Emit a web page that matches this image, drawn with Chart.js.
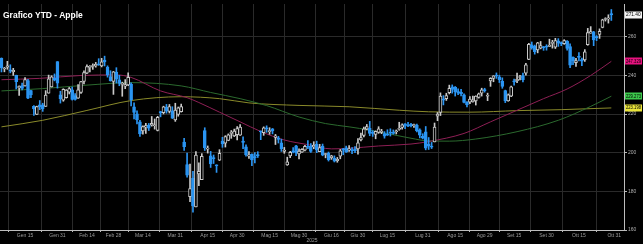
<!DOCTYPE html>
<html>
<head>
<meta charset="utf-8">
<title>Grafico YTD - Apple</title>
<script src="https://cdn.jsdelivr.net/npm/chart.js@4/dist/chart.umd.min.js"></script>
<style>
	html, body { margin:0; padding:0; background:#000; }
	#wrap { position:relative; width:643px; height:244px; }
	#title { position:absolute; left:3px; top:10px; font:bold 8.5px "Liberation Sans", Arial, sans-serif; color:#fff; }
</style>
</head>
<body>
<div id="wrap">
	<canvas id="apple-ytd" width="643" height="244"></canvas>
	<div id="title">Grafico YTD - Apple</div>
</div>
<script>
// trading-day index of each x label (0 = 2 Jan 2025)
var tickIdx = [8, 19, 29, 38, 48, 59, 70, 80, 91, 101, 112, 121, 131, 143, 154, 164, 174, 185, 196, 208];
var tickLabels = ['Gen 15','Gen 31','Feb 14','Feb 28','Mar 14','Mar 31','Apr 15','Apr 30','Mag 15','Mag 30','Giu 16','Giu 30','Lug 15','Lug 31','Ago 15','Ago 29','Set 15','Set 30','Ott 15','Ott 31'];
var yTicks = [160, 180, 200, 220, 240, 260];

// daily OHLC, 2 Jan - 30 Oct 2025
var opens = [
	248.93,243.36,244.31,242.98,241.92,240.01,233.53,234.75,234.64,237.35,232.12,224.00,219.79,224.74,224.78,224.02,230.85,234.12,238.67,247.19,
	229.99,227.25,228.53,231.29,232.60,229.57,228.20,231.20,236.91,241.25,244.15,244.66,244.94,245.95,244.93,248.00,244.33,239.41,236.95,
	241.79,237.71,235.42,234.44,235.11,235.54,223.81,220.14,215.95,211.25,213.31,214.16,214.22,213.99,211.56,221.00,220.77,223.51,221.39,221.67,217.01,
	219.81,221.32,205.54,193.89,177.20,186.70,171.95,189.07,186.10,211.44,201.86,198.36,197.20,193.27,196.12,206.00,204.89,206.37,210.00,208.69,209.30,
	209.08,206.09,203.10,198.21,199.17,197.72,199.00,210.97,210.43,212.43,210.95,212.36,207.91,207.67,205.17,200.71,193.67,198.30,200.59,203.58,199.37,
	200.28,201.35,202.91,203.50,203.00,204.39,200.60,203.50,199.08,199.73,197.30,197.20,195.94,198.24,201.63,202.59,201.45,201.43,201.89,202.01,
	206.67,208.91,212.15,212.68,210.10,209.53,210.51,210.57,209.93,209.22,210.30,210.57,210.87,212.10,213.14,215.00,213.90,214.70,214.03,214.18,211.90,208.49,
	210.87,204.51,203.40,205.63,218.88,220.83,227.92,228.01,231.07,234.06,234.00,231.70,231.28,229.98,226.27,226.17,226.48,226.87,228.61,230.82,232.51,
	229.25,237.21,238.45,240.00,239.30,237.00,232.19,226.88,229.22,237.00,237.18,238.97,239.97,241.23,248.30,255.88,255.22,253.21,254.10,254.56,254.86,
	255.04,256.58,254.67,257.99,256.81,256.52,257.81,254.94,249.38,246.60,249.49,248.25,248.02,255.89,261.88,262.65,259.94,261.19,264.88,268.99,269.28,271.99
];
var highs = [
	249.10,244.18,247.33,245.55,243.71,240.16,234.67,236.12,238.96,238.01,232.29,224.42,224.12,227.03,225.63,232.15,240.19,239.86,240.79,247.19,
	231.83,233.13,232.67,233.80,234.00,230.59,235.23,236.96,242.34,245.55,245.18,246.01,246.78,248.69,248.86,250.00,244.98,242.46,242.09,
	244.03,240.07,236.55,237.86,241.37,236.16,225.84,221.75,216.84,213.95,215.22,215.15,218.76,217.49,218.84,221.48,224.10,225.02,224.99,223.81,225.62,
	223.68,225.19,207.49,199.88,194.15,190.34,200.61,194.78,199.54,212.94,203.51,200.70,198.83,193.80,201.59,208.00,208.83,209.75,211.50,212.24,213.58,
	214.56,208.29,204.10,200.65,199.44,200.05,200.54,211.27,213.40,213.94,212.96,212.57,209.48,208.47,207.04,202.75,197.70,200.74,202.73,203.81,201.96,
	202.13,203.77,206.24,204.75,205.70,206.00,204.35,204.50,199.68,200.37,198.69,198.39,197.57,201.70,202.30,203.44,203.67,202.64,203.22,207.39,
	210.19,213.34,214.65,216.23,211.43,211.33,213.48,212.13,210.91,211.89,212.40,211.80,211.79,215.78,214.95,215.15,215.69,215.24,214.85,214.81,212.39,209.84,
	213.58,207.88,205.34,215.38,220.85,231.00,229.56,230.80,235.00,235.12,234.28,233.12,232.87,230.47,226.52,229.09,229.30,229.49,230.90,233.41,233.38,
	230.85,238.85,239.90,241.32,240.15,238.78,232.42,230.45,234.51,238.19,241.22,240.10,241.20,246.30,256.64,257.34,255.74,257.17,257.60,255.00,255.92,
	258.79,258.18,259.24,259.07,257.40,258.52,258.00,256.38,249.69,248.85,251.82,249.04,253.38,264.38,265.29,262.85,260.62,264.13,269.12,269.89,271.41,274.14
];
var lows = [
	241.82,241.89,243.20,241.35,240.05,233.00,229.72,232.47,234.43,228.03,228.48,219.38,219.79,222.30,221.41,223.98,230.81,234.01,237.21,233.44,
	225.70,226.65,228.27,230.43,227.26,227.20,228.13,230.68,235.57,240.99,241.84,243.16,244.29,245.22,244.42,244.91,239.13,237.06,230.20,
	236.11,234.68,229.23,233.16,234.76,224.22,217.45,214.91,208.42,209.58,209.97,211.49,213.75,212.22,211.28,218.58,220.08,220.47,220.56,217.68,216.23,
	218.90,221.02,201.25,187.34,174.62,169.21,171.89,183.00,186.06,201.16,199.80,192.37,194.42,189.81,195.97,202.80,202.94,206.20,207.46,208.37,206.67,
	208.90,202.16,198.21,197.02,193.25,194.68,197.54,206.75,209.00,210.58,209.54,209.77,204.26,205.03,200.71,199.70,193.46,197.43,199.90,198.51,196.78,
	200.12,200.96,202.10,200.15,202.05,200.02,200.57,198.41,197.36,195.70,196.56,195.21,195.07,196.86,198.96,200.20,200.62,199.46,200.00,199.26,
	206.14,208.14,211.81,208.80,208.45,207.22,210.03,209.86,207.54,208.92,208.64,209.59,209.70,211.63,212.23,212.41,213.53,213.40,213.06,210.82,207.72,207.16,
	201.50,201.68,202.16,205.59,216.58,219.25,224.76,227.07,230.43,230.85,229.34,230.11,229.35,225.77,223.78,225.41,226.23,224.69,228.26,229.34,231.37,
	226.97,234.36,236.74,238.49,236.34,233.36,225.95,226.65,229.02,235.03,236.32,237.73,236.65,240.21,248.12,253.58,251.04,251.71,253.78,253.01,253.11,
	254.93,254.15,253.95,255.05,255.43,256.11,253.14,244.00,245.56,244.70,247.47,245.13,247.27,255.63,261.83,255.43,258.01,259.18,264.65,268.15,267.11,268.48
];
var closes = [
	243.85,243.36,245.00,242.21,242.70,236.85,234.40,233.28,237.87,228.26,229.98,222.64,223.83,223.66,222.78,229.86,238.26,239.36,237.59,236.00,
	228.01,232.80,232.47,233.22,227.63,227.65,232.62,236.87,241.53,244.60,244.47,244.87,245.83,245.55,247.10,247.04,240.36,237.30,241.84,
	238.03,235.93,235.74,235.33,239.07,227.48,220.84,216.98,209.68,213.49,214.00,212.69,215.24,214.10,218.27,220.73,223.75,221.53,223.85,217.90,222.13,
	223.19,223.89,203.19,188.38,181.46,172.42,198.85,190.42,198.15,202.52,202.14,194.27,196.98,193.16,199.74,204.60,208.37,209.28,210.14,211.21,212.50,
	213.32,205.35,198.89,198.51,196.25,197.49,198.53,210.79,212.93,212.33,211.45,211.26,208.78,206.86,202.09,201.36,195.27,200.21,200.42,199.95,200.85,
	201.70,203.27,202.82,200.63,203.92,201.45,202.67,198.78,199.20,196.45,198.42,195.64,196.58,201.00,201.50,200.30,201.56,201.00,201.08,205.17,
	207.82,212.44,213.55,209.95,210.01,211.14,212.41,211.16,208.62,209.11,210.16,210.02,211.18,212.48,214.40,214.15,213.76,213.88,214.05,211.27,209.05,207.57,
	202.38,203.35,202.92,213.25,220.03,229.35,227.18,229.65,233.33,232.78,231.59,230.89,230.56,226.01,224.90,227.76,227.16,229.31,230.49,232.56,232.14,
	229.72,238.47,239.78,239.69,237.88,234.35,226.79,230.03,234.07,236.70,238.15,238.99,237.88,245.50,256.08,254.43,252.31,256.87,255.46,254.43,254.63,
	255.45,257.13,258.02,256.69,256.48,258.06,254.04,245.27,247.66,247.77,249.34,247.45,252.29,262.24,262.77,258.45,259.58,262.82,268.81,269.00,269.70,271.40
];

// moving averages at a few trading days
var ma50Idx = [0, 13, 27, 39, 44, 54, 63, 67, 74, 81, 88, 96, 104, 112, 118, 128, 139, 145, 157, 166, 175, 184, 192, 200, 207];
var ma50 = [237.8, 238.5, 240.0, 240.3, 239.0, 232.0, 228.5, 226.0, 221.0, 216.0, 211.0, 206.6, 204.2, 202.0, 202.3, 203.5, 204.5, 205.8, 210.0, 216.0, 222.0, 228.0, 233.0, 240.0, 247.329];
var ma100Idx = [0, 14, 29, 44, 61, 71, 81, 90, 101, 110, 118, 125, 139, 145, 152, 161, 175, 189, 200, 207];
var ma100 = [232.0, 233.2, 235.0, 236.3, 234.6, 231.2, 228.0, 224.4, 218.5, 215.1, 213.4, 211.7, 207.5, 206.1, 206.0, 207.1, 210.9, 216.8, 224.0, 229.273];
var ma200Idx = [0, 14, 29, 44, 61, 74, 84, 101, 118, 135, 145, 159, 175, 190, 207];
var ma200 = [213.4, 216.8, 221.9, 227.0, 229.0, 228.0, 225.8, 224.5, 223.8, 222.0, 221.2, 221.0, 221.8, 222.3, 223.198];

var UP_COL = '#c9c9c9';
var DOWN_COL = '#2b95f2';

var chart_page = {
	initialize:function(){
		this.init_chart('apple-ytd');
	},
	pairs:function(xs, ys){
		var out = [];
		for (var i = 0; i < xs.length; i++) {
			out.push({x: xs[i], y: ys[i]});
		}
		return out;
	},
	init_chart:function(canvasId){
		var wicks = [], bodies = [], wickCols = [], bodyFill = [], bodyLine = [];
		for (var i = 0; i < closes.length; i++) {
			var up = closes[i] >= opens[i];
			wicks.push({x: i, y: [lows[i], highs[i]]});
			bodies.push({x: i, y: [Math.min(opens[i], closes[i]), Math.max(opens[i], closes[i])]});
			wickCols.push(up ? UP_COL : DOWN_COL);
			bodyFill.push(up ? '#000' : DOWN_COL);
			bodyLine.push(up ? UP_COL : DOWN_COL);
		}

		var tags = [
			{value: closes[closes.length-1], text: closes[closes.length-1].toFixed(2), bg: '#f4f4f4', fg: '#000'},
			{value: ma50[ma50.length-1], text: ma50[ma50.length-1].toFixed(3), bg: '#e8127f', fg: '#000'},
			{value: ma100[ma100.length-1], text: ma100[ma100.length-1].toFixed(3), bg: '#3cc84c', fg: '#000'},
			{value: ma200[ma200.length-1], text: ma200[ma200.length-1].toFixed(3), bg: '#e9e43a', fg: '#000'}
		];

		var priceTags = {
			id: 'priceTags',
			afterDraw: function(chart){
				var ctx = chart.ctx, ys = chart.scales.y, left = chart.chartArea.right + 1;
				var w = chart.width - left - 1;
				ctx.save();
				ctx.font = '4.8px "Liberation Sans", Arial, sans-serif';
				ctx.textBaseline = 'middle';
				tags.forEach(function(t){
					var y = ys.getPixelForValue(t.value);
					ctx.fillStyle = t.bg;
					ctx.fillRect(left, Math.round(y) - 3.5, w, 7);
					ctx.fillStyle = t.fg;
					ctx.fillText(t.text, left + 1, y, w - 2);
				});
				ctx.restore();
			}
		};

		var lineStyle = function(label, pts, col){
			return {type: 'line', label: label, data: pts, borderColor: col, borderWidth: 1, pointRadius: 0, cubicInterpolationMode: 'monotone', order: 4};
		};

		var config = {
			type: 'bar',
			data: {
				datasets: [
					lineStyle('MA 50', this.pairs(ma50Idx, ma50), '#8e1f55'),
					lineStyle('MA 100', this.pairs(ma100Idx, ma100), '#2b6a2e'),
					lineStyle('MA 200', this.pairs(ma200Idx, ma200), '#8a8a2a'),
					{label: 'wick', data: wicks, backgroundColor: wickCols, barThickness: 1, grouped: false, order: 3},
					{label: 'body', data: bodies, backgroundColor: bodyFill, borderColor: bodyLine, borderWidth: 1, borderSkipped: false, barThickness: 3, minBarLength: 1, grouped: false, order: 2}
				]
			},
			options: {
				responsive: false,
				animation: false,
				layout: {padding: 0},
				plugins: {
					legend: {display: false},
					tooltip: {enabled: false},
					title: {display: false}
				},
				scales: {
					x: {
						type: 'linear',
						min: -0.5,
						max: 211.3,
						offset: false,
						afterBuildTicks: function(scale){
							scale.ticks = tickIdx.map(function(v){ return {value: v}; });
						},
						afterFit: function(scale){ scale.height = 14; },
						ticks: {
							autoSkip: false,
							maxRotation: 0,
							padding: 1,
							color: '#9c9c9c',
							font: {family: '"Liberation Sans", Arial, sans-serif', size: 5},
							callback: function(v){ return tickLabels[tickIdx.indexOf(v)]; }
						},
						grid: {color: '#2a2a2a', tickColor: '#bbb', tickLength: 2},
						border: {color: '#bdbdbd'},
						title: {display: true, text: '2025', color: '#9c9c9c', padding: 0, font: {family: '"Liberation Sans", Arial, sans-serif', size: 5}}
					},
					y: {
						position: 'right',
						min: 160,
						max: 277,
						afterBuildTicks: function(scale){
							scale.ticks = yTicks.map(function(v){ return {value: v}; });
						},
						afterFit: function(scale){ scale.width = 19; },
						ticks: {
							padding: 1,
							color: '#b0b0b0',
							font: {family: '"Liberation Sans", Arial, sans-serif', size: 5}
						},
						grid: {color: '#2a2a2a', tickColor: '#bbb', tickLength: 3},
						border: {color: '#bdbdbd'}
					}
				}
			},
			plugins: [priceTags]
		};

		var ctx = document.getElementById(canvasId).getContext('2d');
		var chart = new Chart(ctx, config);
	}
};

chart_page.initialize();
</script>
</body>
</html>
